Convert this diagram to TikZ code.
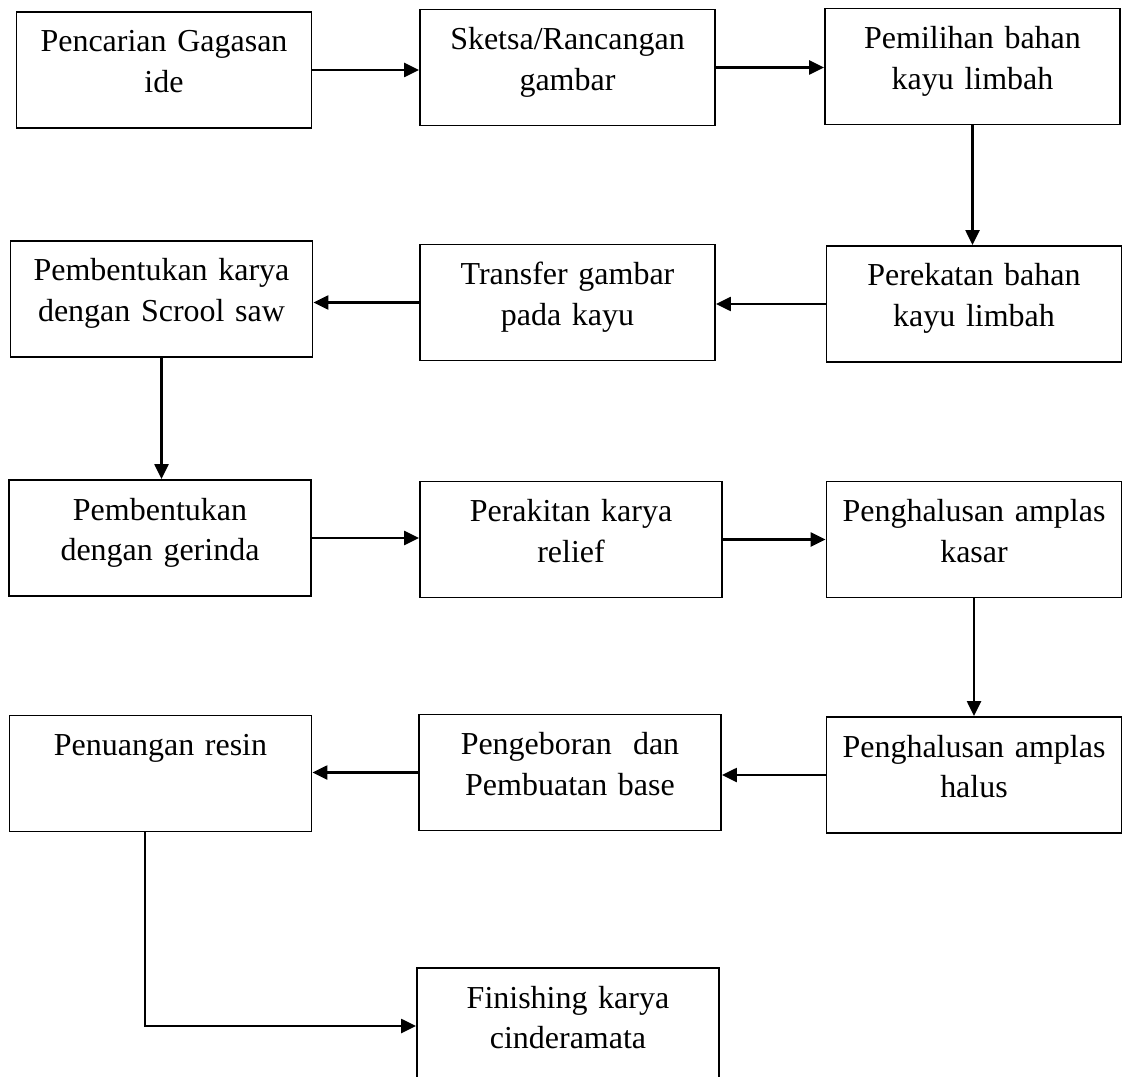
\documentclass[tikz,border=0pt]{standalone}
\usepackage{fontspec}
\setmainfont{Liberation Serif}
\usetikzlibrary{arrows.meta}

\begin{document}
\begin{tikzpicture}[
   stepbox/.style={draw, line width=1.1pt, inner sep=0pt, align=center,
     text width=5.9cm, text height=0.80cm, text depth=1.52cm,
     font=\fontsize{18.2}{23.3}\selectfont},
   widebox/.style={stepbox, text width=6.04cm},
   flow/.style={line width=1.2pt, -{Triangle[length=8.5pt,width=8pt]}}]
   \clip (0,0) rectangle (22.48,-21.54);
   % first row
   \node[stepbox] (cari) at (3.28,-1.40) {Pencarian Gagasan\\ide};
   \node[stepbox] (sketsa) at (11.35,-1.35) {Sketsa/Rancangan\\gambar};
   \node[stepbox] (pilih) at (19.45,-1.33) {Pemilihan bahan\\kayu limbah};
   % second row
   \node[widebox] (scroll) at (3.23,-5.98) {Pembentukan karya\\dengan Scrool saw};
   \node[stepbox] (transfer) at (11.35,-6.05) {Transfer gambar\\pada kayu};
   \node[stepbox] (rekat) at (19.48,-6.08) {Perekatan bahan\\kayu limbah};
   % third row
   \node[widebox] (gerinda) at (3.20,-10.76) {Pembentukan\\dengan gerinda};
   \node[widebox] (rakit) at (11.42,-10.79) {Perakitan karya\\relief};
   \node[stepbox] (kasar) at (19.48,-10.79) {Penghalusan amplas\\kasar};
   % fourth row
   \node[widebox] (resin) at (3.21,-15.47) {Penuangan resin};
   \node[widebox] (bor) at (11.40,-15.45) {Pengeboran\ \ dan\\Pembuatan base};
   \node[stepbox] (halus) at (19.48,-15.50) {Penghalusan amplas\\halus};
   % last one
   \node[widebox] (finish) at (11.36,-20.52) {Finishing karya\\cinderamata};

   \draw[flow] (cari.east) -- (cari.east -| sketsa.west);
   \draw[flow] (sketsa.east) -- (sketsa.east -| pilih.west);
   \draw[flow] (pilih.south) -- (pilih.south |- rekat.north);
   \draw[flow] (rekat.west) -- (rekat.west -| transfer.east);
   \draw[flow] (transfer.west) -- (transfer.west -| scroll.east);
   \draw[flow] (scroll.south) -- (scroll.south |- gerinda.north);
   \draw[flow] (gerinda.east) -- (gerinda.east -| rakit.west);
   \draw[flow] (rakit.east) -- (rakit.east -| kasar.west);
   \draw[flow] (kasar.south) -- (kasar.south |- halus.north);
   \draw[flow] (halus.west) -- (halus.west -| bor.east);
   \draw[flow] (bor.west) -- (bor.west -| resin.east);
   \draw[flow] ([xshift=-0.31cm]resin.south) |- (finish.west);
\end{tikzpicture}
\end{document}
